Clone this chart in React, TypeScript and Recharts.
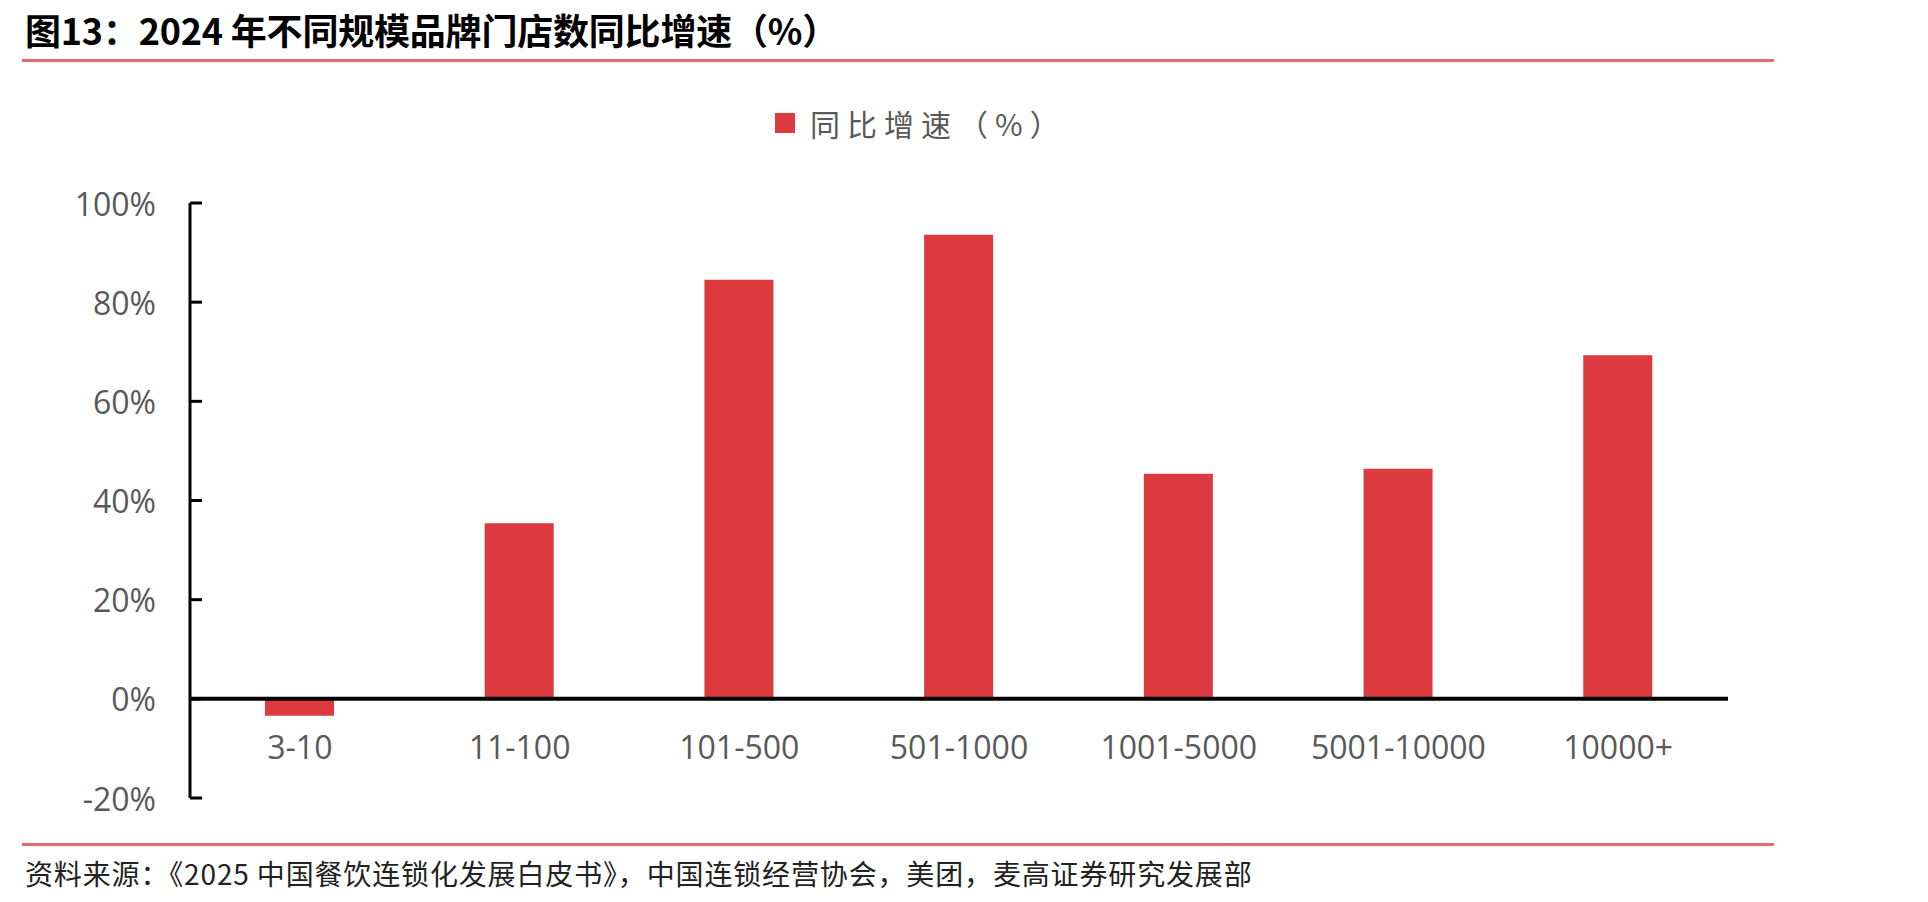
import React from 'react';
import { BarChart, Bar, XAxis, YAxis, ReferenceLine } from 'recharts';

const categories = ['3-10', '11-100', '101-500', '501-1000', '1001-5000', '5001-10000', '10000+'];
const growth = [-3.4, 35.4, 84.5, 93.6, 45.4, 46.4, 69.3];
const yTicks = [-20, 0, 20, 40, 60, 80, 100];

const title = '图13：2024 年不同规模品牌门店数同比增速（%）';
const seriesName = '同比增速（%）';
const source = '资料来源：《2025 中国餐饮连锁化发展白皮书》，中国连锁经营协会，美团，麦高证券研究发展部';

const data = categories.map((c, i) => ({ name: c, value: growth[i] }));

const RED = '#DC3A3E';
const GRAY = '#595959';
const LINE_RED = '#E06C6E';
const LATIN = '"Open Sans", "Noto Sans CJK SC", sans-serif';
const CJK = '"Noto Sans CJK SC", sans-serif';

const YTick = (props: any) => {
  const { x, y, payload } = props;
  return (
    <g>
      <line x1={x} x2={x + 12} y1={y} y2={y} stroke="#000" strokeWidth={3} />
      <text x={x - 34} y={y} textAnchor="end" dominantBaseline="central" fill={GRAY} fontSize={32} fontFamily={LATIN}>
        {`${payload.value}%`}
      </text>
    </g>
  );
};

const XTick = (props: any) => {
  const { x, y, payload } = props;
  return (
    <text x={x} y={y - 52} textAnchor="middle" dominantBaseline="central" fill={GRAY} fontSize={32} fontFamily={LATIN}>
      {payload.value}
    </text>
  );
};

export default function App() {
  return (
    <div style={{ position: 'absolute', left: 0, top: 0, width: 1928, height: 902, background: '#fff', overflow: 'hidden' }}>
      <div style={{ position: 'absolute', left: 25, top: 5, fontFamily: CJK, fontWeight: 700, fontSize: 36, color: '#000', whiteSpace: 'nowrap', lineHeight: '48px', letterSpacing: -0.2 }}>
        {title}
      </div>
      <div style={{ position: 'absolute', left: 22, top: 59, width: 1752, height: 3, background: LINE_RED }} />

      <div style={{ position: 'absolute', left: 775, top: 103, display: 'flex', alignItems: 'center', height: 40 }}>
        <div style={{ width: 20, height: 20, background: RED, marginRight: 15 }} />
        <span style={{ fontFamily: CJK, fontSize: 30, color: GRAY, letterSpacing: 7, whiteSpace: 'nowrap' }}>{seriesName}</span>
      </div>

      <div style={{ position: 'absolute', left: 0, top: 0 }}>
        <BarChart width={1928} height={902} data={data} margin={{ top: 203, right: 200, bottom: 74, left: 90 }}>
          <YAxis
            domain={[-20, 100]}
            ticks={yTicks}
            interval={0}
            width={100}
            axisLine={{ stroke: '#000', strokeWidth: 3 }}
            tickLine={false}
            tickSize={0}
            tickMargin={0}
            tick={<YTick />}
          />
          <XAxis
            dataKey="name"
            height={30}
            axisLine={false}
            tickLine={false}
            tickSize={0}
            tickMargin={0}
            interval={0}
            tick={<XTick />}
          />
          <Bar dataKey="value" fill={RED} barSize={69} isAnimationActive={false} />
          <ReferenceLine y={0} stroke="#000" strokeWidth={4} />
        </BarChart>
      </div>

      <div style={{ position: 'absolute', left: 22, top: 843, width: 1752, height: 3, background: LINE_RED }} />
      <div style={{ position: 'absolute', left: 25, top: 855, fontFamily: CJK, fontSize: 28, color: '#222', whiteSpace: 'nowrap', lineHeight: '36px', letterSpacing: 0.85 }}>
        {source}
      </div>
    </div>
  );
}
